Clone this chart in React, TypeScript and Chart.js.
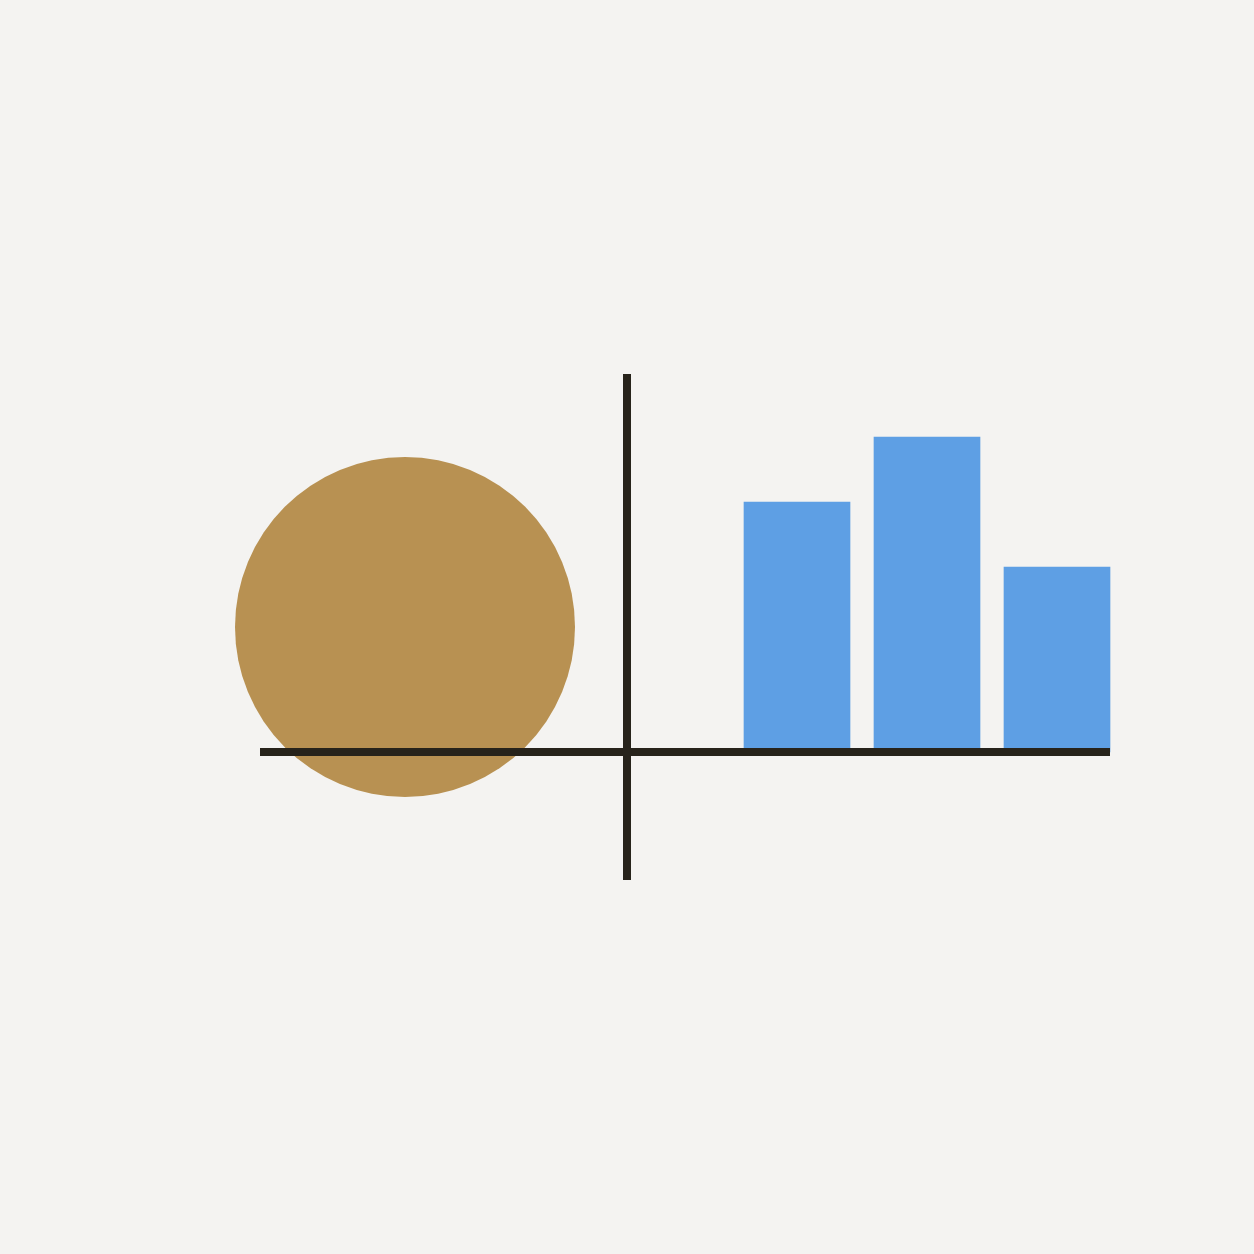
import { useEffect, useRef } from 'react';
import { Chart, registerables } from 'chart.js';

Chart.register(...registerables);

// 1 unit = 10px; origin where the two axis lines cross
const BAR_X = [17, 30, 43];
const BAR_VALUES = [25, 31.5, 18.5];

const CIRCLE_X = [-22.2];
const CIRCLE_Y = [12.5];
const CIRCLE_R = [170];

const H_AXIS_X = [-36.7, 48.3];
const V_AXIS_Y = [-12.8, 37.8];

const BG = '#f4f3f1';
const INK = '#27231b';

export default function App() {
  const canvasRef = useRef<HTMLCanvasElement>(null);
  const chartRef = useRef<Chart | null>(null);

  useEffect(() => {
    document.body.style.margin = '0';
    document.body.style.background = BG;
    if (!canvasRef.current) return;
    if (chartRef.current) chartRef.current.destroy();

    chartRef.current = new Chart(canvasRef.current, {
      type: 'bar',
      data: {
        datasets: [
          {
            type: 'bubble',
            data: CIRCLE_X.map((x, i) => ({ x, y: CIRCLE_Y[i], r: CIRCLE_R[i] })),
            backgroundColor: '#b89152',
            borderWidth: 0,
            order: 3,
          } as any,
          {
            type: 'bar',
            data: BAR_X.map((x, i) => ({ x, y: BAR_VALUES[i] })),
            backgroundColor: '#5e9fe4',
            borderWidth: 0,
            barThickness: 106,
            order: 2,
          },
          {
            type: 'line',
            data: H_AXIS_X.map((x) => ({ x, y: 0 })),
            borderColor: INK,
            borderWidth: 8,
            borderCapStyle: 'butt',
            pointRadius: 0,
            fill: false,
            order: 1,
          } as any,
          {
            type: 'line',
            data: V_AXIS_Y.map((y) => ({ x: 0, y })),
            borderColor: INK,
            borderWidth: 8,
            borderCapStyle: 'butt',
            pointRadius: 0,
            fill: false,
            order: 0,
          } as any,
        ],
      },
      options: {
        responsive: false,
        animation: false,
        events: [],
        layout: { padding: 0, autoPadding: false },
        plugins: { legend: { display: false }, tooltip: { enabled: false } },
        scales: {
          x: { type: 'linear', display: false, min: -62.7, max: 62.7, offset: false },
          y: { type: 'linear', display: false, min: -50.2, max: 75.2 },
        },
      },
    });

    return () => chartRef.current?.destroy();
  }, []);

  return (
    <div style={{ width: 1254, height: 1254, background: BG }}>
      <canvas ref={canvasRef} width={1254} height={1254} style={{ width: 1254, height: 1254, display: 'block' }} />
    </div>
  );
}
